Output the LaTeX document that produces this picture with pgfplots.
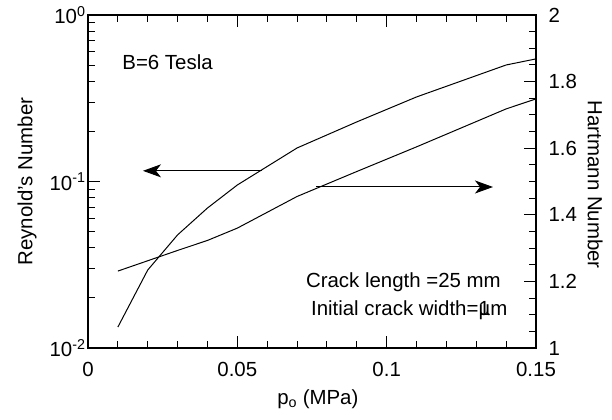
\documentclass[border=0pt]{standalone}
\usepackage{pgfplots}
\pgfplotsset{compat=1.18}
\usepackage{fontspec}
\setmainfont{Liberation Sans}
\usetikzlibrary{arrows.meta}
\pgfplotsset{
  myaxis/.style={
    font=\fontsize{20.5}{24}\selectfont,
    scale only axis, width=448bp, height=333bp,
    xmin=0, xmax=0.15, clip=false,
    axis line style={line width=1.2pt},
    major tick length=12bp, minor tick length=7bp,
    tick align=inside,
    tick style={line width=1pt, black},
  }
}
\begin{document}
\begin{tikzpicture}
\useasboundingbox (-88bp,-72bp) rectangle (524bp,348bp);
\begin{axis}[
  myaxis,
  at={(0,0)}, anchor=south west,
  ymode=log, ymin=0.01, ymax=1,
  xtick={0,0.05,0.1,0.15}, minor x tick num=4,
  xticklabels={0,0.05,0.1,0.15},
  ytick={0.01,0.1,1},
  yticklabels={10\textsuperscript{-2},10\textsuperscript{-1},10\textsuperscript{0}},
  ytick pos=left,
  xticklabel style={yshift=-11bp},
  yticklabel style={xshift=1bp},
]
\addplot[black, line width=1pt] coordinates {
 (0.01,0.01336) (0.02,0.0294) (0.03,0.0478) (0.04,0.0693) (0.05,0.0953)
 (0.07,0.159) (0.09,0.228) (0.11,0.322) (0.14,0.501) (0.15,0.545)
};
% tick marks (bottom/top x, left log y)
\pgfplotsinvokeforeach{0,0.05,0.1,0.15}{
  \draw[line width=1pt] (axis cs:#1,0.01) -- ([yshift=12bp]axis cs:#1,0.01);
  \draw[line width=1pt] (axis cs:#1,1) -- ([yshift=-12bp]axis cs:#1,1);
}
\pgfplotsinvokeforeach{0.01,0.02,0.03,0.04,0.06,0.07,0.08,0.09,0.11,0.12,0.13,0.14}{
  \draw[line width=1pt] (axis cs:#1,0.01) -- ([yshift=7bp]axis cs:#1,0.01);
  \draw[line width=1pt] (axis cs:#1,1) -- ([yshift=-7bp]axis cs:#1,1);
}
\pgfplotsinvokeforeach{0.01,0.1,1}{
  \draw[line width=1pt] (axis cs:0,#1) -- ([xshift=12bp]axis cs:0,#1);
}
\pgfplotsinvokeforeach{0.02,0.03,0.04,0.05,0.06,0.07,0.08,0.09,0.2,0.3,0.4,0.5,0.6,0.7,0.8,0.9}{
  \draw[line width=1pt] (axis cs:0,#1) -- ([xshift=7bp]axis cs:0,#1);
}
\node[anchor=west] at (rel axis cs:0.069,0.859) {B=6 Tesla};
\node at (rel axis cs:0.704,0.198) {Crack length =25 mm};
\node at (rel axis cs:0.717,0.114) {Initial crack width=\makebox[0pt][l]{1}µm};
\node[rotate=90] at (rel axis cs:-0.136,0.5) {Reynold's Number};
\node[rotate=-90] at (rel axis cs:1.132,0.49) {Hartmann Number};
\node at (rel axis cs:0.513,-0.155) {p\textsubscript{o} (MPa)};
\end{axis}
\begin{axis}[
  myaxis,
  at={(0,0)}, anchor=south west,
  axis x line=none, axis y line*=right,
  ymin=1, ymax=2,
  ytick={1,1.2,1.4,1.6,1.8,2}, minor y tick num=3,
  yticklabels={1,1.2,1.4,1.6,1.8,2},
  yticklabel style={xshift=9bp},
]
\addplot[black, line width=1pt] coordinates {
 (0.01,1.231) (0.02,1.262) (0.03,1.293) (0.04,1.323) (0.05,1.360)
 (0.07,1.455) (0.09,1.530) (0.11,1.604) (0.14,1.718) (0.15,1.748)
};
\pgfplotsinvokeforeach{1,1.2,1.4,1.6,1.8,2}{
  \draw[line width=1pt] (axis cs:0.15,#1) -- ([xshift=-12bp]axis cs:0.15,#1);
}
\pgfplotsinvokeforeach{1.05,1.1,1.15,1.25,1.3,1.35,1.45,1.5,1.55,1.65,1.7,1.75,1.85,1.9,1.95}{
  \draw[line width=1pt] (axis cs:0.15,#1) -- ([xshift=-7bp]axis cs:0.15,#1);
}
\addplot[black, line width=1pt, -{Stealth[length=18bp,width=13bp,inset=5bp]}] coordinates {(0.0583,1.532) (0.0184,1.532)};
\addplot[black, line width=1pt, -{Stealth[length=18bp,width=13bp,inset=5bp]}] coordinates {(0.0763,1.4835) (0.1356,1.4835)};
\end{axis}
\end{tikzpicture}
\end{document}
